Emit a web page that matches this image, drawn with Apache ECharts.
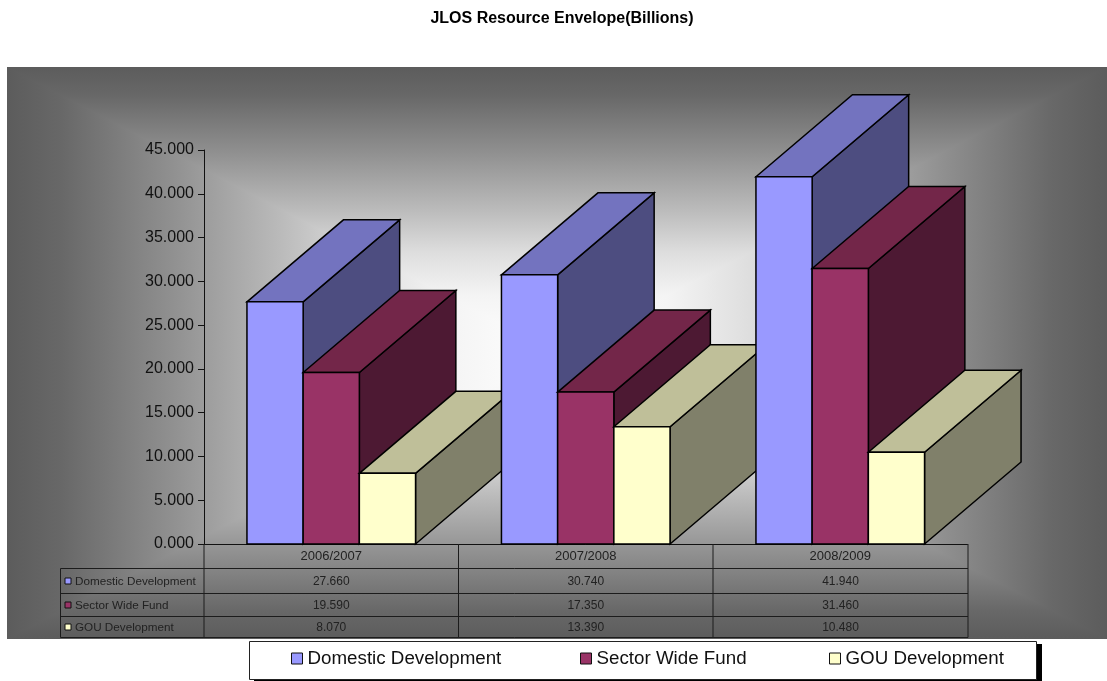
<!DOCTYPE html>
<html><head><meta charset="utf-8">
<style>html,body{margin:0;padding:0;background:#fff}#c{width:1107px;height:681px}</style>
<script src="https://cdn.jsdelivr.net/npm/echarts@6/dist/echarts.min.js"></script>
</head><body><div id="c"></div>
<script>
const categories = ['2006/2007','2007/2008','2008/2009'];
const domestic = [27.66,30.74,41.94];
const sector = [19.59,17.35,31.46];
const gou = [8.07,13.39,10.48];
const names = ['Domestic Development','Sector Wide Fund','GOU Development'];
const values = [domestic,sector,gou];
const front = ['#9999FF','#993366','#FFFFCC'];
const topc = ['#7373BF','#732649','#BFBF99'];
const side = ['#4D4D80','#4D1933','#80806A'];

const W=1107,H=681, gL=204,gR=967.5,gT=150,gB=544, bgL=7,bgT=67,bgB=639;
const barW=56.2, dx=96.5, dy=-82;
const rows=[568.5,593.5,616.5,637.5];
const cols=[gL,458.5,713,968];
const cx=(bgL+W)/2, cy=(bgT+bgB)/2;
const stops=[{offset:0,color:'#5c5c5c'},{offset:.1,color:'#686868'},{offset:.3,color:'#909090'},{offset:.5,color:'#bbbbbb'},{offset:.65,color:'#dedede'},{offset:.8,color:'#f4f4f4'},{offset:1,color:'#ffffff'}];
function grad(x,y,x2,y2){return {type:'linear',global:true,x,y,x2,y2,colorStops:stops};}

function renderBar(si){return function(params,api){
  const ci=api.value(0), v=api.value(1);
  const base=api.coord([ci,0]), p=api.coord([ci,v]);
  const x0=base[0]-barW*1.5+si*barW, x1=x0+barW, yb=base[1], yt=p[1];
  const ls={stroke:'#000',lineWidth:1.5,lineJoin:'miter'};
  const z2=ci*10+si;
  const poly=(pts,fill)=>({type:'polygon',z2,shape:{points:pts},style:Object.assign({fill},ls)});
  return {type:'group',children:[
    poly([[x1,yb],[x1+dx,yb+dy],[x1+dx,yt+dy],[x1,yt]],side[si]),
    poly([[x0,yt],[x0+dx,yt+dy],[x1+dx,yt+dy],[x1,yt]],topc[si]),
    poly([[x0,yb],[x1,yb],[x1,yt],[x0,yt]],front[si])
  ]};
};}

const graphics=[];
const ov=3;
// left and right wedges overlap slightly under the top and bottom wedges, so no seam shows
graphics.push({type:'polygon',z:-10,silent:true,shape:{points:[[bgL,bgT],[bgL+ov,bgT],[cx+ov,cy],[bgL+ov,bgB],[bgL,bgB]]},style:{fill:grad(bgL,0,cx,0)}});
graphics.push({type:'polygon',z:-10,silent:true,shape:{points:[[W,bgT],[W-ov,bgT],[cx-ov,cy],[W-ov,bgB],[W,bgB]]},style:{fill:grad(W,0,cx,0)}});
graphics.push({type:'polygon',z:-9,silent:true,shape:{points:[[bgL,bgT],[W,bgT],[cx,cy]]},style:{fill:grad(0,bgT,0,cy)}});
graphics.push({type:'polygon',z:-9,silent:true,shape:{points:[[bgL,bgB],[W,bgB],[cx,cy]]},style:{fill:grad(0,bgB,0,cy)}});

const lineCol='#1c1c1c';
function ln(x1,y1,x2,y2){graphics.push({type:'line',z:1,silent:true,shape:{x1,y1,x2,y2},style:{stroke:lineCol,lineWidth:1}});}
rows.forEach(y=>ln(60.5,y,cols[3],y));
ln(60.5,rows[0],60.5,rows[3]);
cols.forEach(x=>ln(x,gB,x,rows[3]));
const rowMid=[581,605,627];
names.forEach((n,i)=>{
  graphics.push({type:'rect',z:1,silent:true,shape:{x:65,y:rowMid[i]-3,width:6,height:6},style:{fill:front[i],stroke:'#111',lineWidth:1}});
  graphics.push({type:'text',z:1,silent:true,style:{text:n,x:75,y:rowMid[i]+1,fill:'#222',font:'11.7px "Liberation Sans"',textVerticalAlign:'middle'}});
  values[i].forEach((v,c)=>{
    graphics.push({type:'text',z:1,silent:true,style:{text:v.toFixed(3),x:(cols[c]+cols[c+1])/2,y:rowMid[i]+1,fill:'#222',font:'12px "Liberation Sans"',textAlign:'center',textVerticalAlign:'middle'}});
  });
});
graphics.push({type:'rect',z:3,silent:true,shape:{x:254,y:644,width:788,height:37},style:{fill:'#000'}});
graphics.push({type:'rect',z:3,silent:true,z2:1,shape:{x:249.5,y:641.5,width:787,height:38},style:{fill:'#fff',stroke:'#222',lineWidth:1}});

const legendLeft=[291,580,829];
const chart=echarts.init(document.getElementById('c'),null,{renderer:'canvas'});
chart.setOption({
  animation:false,
  backgroundColor:'#fff',
  title:{text:'JLOS Resource Envelope(Billions)',left:557,textAlign:'center',top:6,
    textStyle:{fontFamily:'Liberation Sans',fontSize:16,fontWeight:'bold',color:'#000'}},
  grid:{left:gL,top:gT,width:gR-gL,height:gB-gT},
  xAxis:{type:'category',data:categories,
    axisLine:{show:true,lineStyle:{color:'#111',width:1}},axisTick:{show:false},
    axisLabel:{color:'#222',fontFamily:'Liberation Sans',fontSize:13,margin:6}},
  yAxis:{type:'value',min:0,max:45,interval:5,
    axisLine:{show:true,lineStyle:{color:'#111',width:1}},
    axisTick:{show:true,length:6,lineStyle:{color:'#111',width:1}},
    splitLine:{show:false},
    axisLabel:{color:'#111',fontFamily:'Liberation Sans',fontSize:16,margin:10,formatter:v=>v.toFixed(3)}},
  legend:names.map((n,i)=>({data:[n],left:legendLeft[i],top:649,z:5,padding:0,icon:'rect',itemWidth:11,itemHeight:11,itemGap:0,
    itemStyle:{borderColor:'#111',borderWidth:1},
    textStyle:{fontFamily:'Liberation Sans',fontSize:18.75,color:'#111'},selectedMode:false})),
  graphic:{elements:graphics},
  series:names.map((n,si)=>({
    type:'custom',name:n,coordinateSystem:'cartesian2d',clip:false,
    itemStyle:{color:front[si]},
    encode:{x:0,y:1},
    data:values[si].map((v,c)=>[c,v]),
    renderItem:renderBar(si)
  }))
});
</script></body></html>
